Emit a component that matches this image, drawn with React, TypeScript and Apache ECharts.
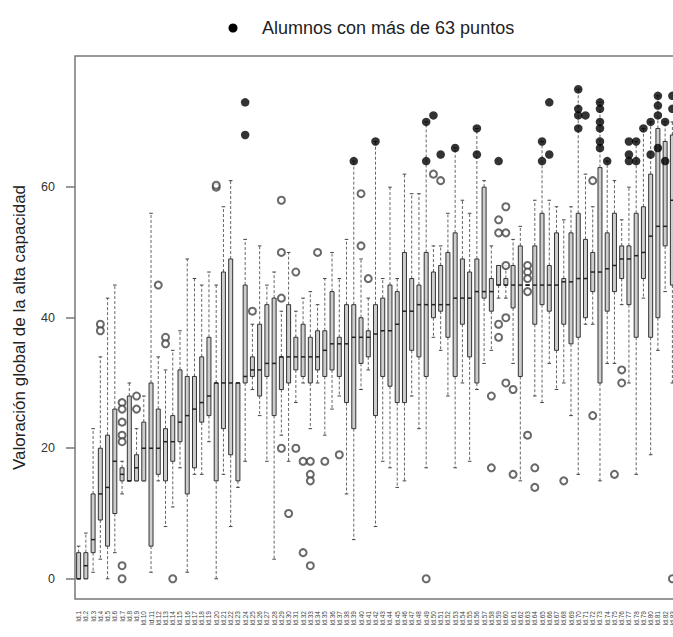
import React, { useEffect, useRef } from "react";
import * as echarts from "echarts";

const categories: string[] = Array.from({ length: 83 }, (_, i) => "Id." + (i + 1));

const whiskerLow = [0,0,1,3,0,4,13,15,15,15,1,15,8,11,17,1,16,16,21,0,16,8,14,18,29,25,18,3,22,18,27,30,23,30,22,26,28,13,6,29,32,8,18,17,14,15,28,23,17,37,35,28,17,30,18,29,33,35,43,43,33,15,45,28,27,33,29,30,25,16,39,39,15,33,33,42,30,16,43,19,35,44,30];
const q1 = [0,0,4,9,5,10,15,15,15,15,5,16,15,18,21,13,17,24,25,15,23,19,15,30,31,28,31,25,29,30,32,31,30,32,31,32,31,27,23,33,34,25,31,29.5,27,27,35,34,31,40,41,37,31,39,34,30,43,41,45,45,41.5,31,45,39,42,41,35,39,36,37,40,44,30,41,44,46,42,37,46,37,40,51,45];
const medians = [0,2,6,13,14,18,16,15,17,20,20,20,21,21,24,25,26,27,28,30,30,30,30,31,32,32,33,33,34,34,34,34,34,34,35,36,36,36,37,37,37,37.5,38,38,39,41,41,42,42,42,42,42,43,43,43,44,44,44,45,45,45,45,45,45,45,45,45,45.5,45.5,46,46,47,47,47.5,48,49,49,49.5,50,52.5,54,54,58];
const q3 = [4,4,13,20,22,26,17,28,19,24,30,26,23,25,32,31,31,34,37,30,47,49,30,45,34,39,42,43,34,42,37,39,37,38,38,44,37,42,42,40,38,42,43,45,44,50,46,45,50,47,48,50,53,49,47,49,60,46,48,46,48,51,45,51,56,48,53,46,53,56,52,50,63,53,56,51,51,56,57,62,69,67,68];
const whiskerHigh = [5,7,23,34,43,45,18,30,23,28,56,34,32,35,38,49,46,45,47,45,57,61,30,52,39,51,45,47,41,50,41,43,44,42,46,50,46,52,64,49,43,67,46,60,46,62,59,59,70,51,51,56,66,58,56,69,61,51,48,48,52,54,45,58,67,58,57,55,57,75,62,57,73,64,61,55,60,67,69,70,74,70,70];

// [box number, value]
const openOutliers: [number, number][] = [
  [4,39],[4,38],[7,27],[7,26],[7,24],[7,22],[7,21],[7,2],[7,0],[9,28],[9,26],[12,45],[13,37],[13,36],[14,0],
  [20,60],[20,60.3],[25,41],[29,58],[29,50],[29,43],[29,20],[30,10],[31,47],[31,20],[32,18],[32,4],
  [33,18],[33,16],[33,15],[33,2],[34,50],[35,18],[37,19],[40,59],[40,51],[41,46],[49,0],[50,62],[51,61],
  [58,28],[58,17],[59,55],[59,53],[59,39],[59,37],[60,57],[60,53],[60,48],[60,40],[60,30],[61,29],[61,16],
  [63,48],[63,47],[63,46],[63,44],[63,22],[64,17],[64,14],[68,15],[72,61],[72,25],[75,16],[76,32],[76,30],[83,0]
];

const highScorers: [number, number][] = [
  [24,73],[24,68],[39,64],[42,67],[49,70],[49,64],[50,71],[51,65],[53,66],[56,69],[56,65],[59,64],
  [65,67],[65,64],[66,73],[66,65],[70,75],[70,72],[70,71],[70,69],[71,71],
  [73,73],[73,72],[73,70],[73,69],[73,67],[73,66],[74,64],[77,67],[77,65],[77,64],[78,67],[78,64],
  [79,69],[80,70],[80,65],[81,74],[81,72.5],[81,71],[81,66],[82,70],[82,64],[83,74],[83,72]
];

const yTicks = [0, 20, 40, 60];
const legendLabel = "Alumnos con más de 63 puntos";
const yTitle = "Valoración global de la alta capacidad";

const FONT = "'Liberation Sans', Arial, Helvetica, sans-serif";

export default function App() {
  const ref = useRef<HTMLDivElement>(null);
  useEffect(() => {
    if (!ref.current) return;
    const chart = echarts.init(ref.current, undefined, { renderer: "svg" });
    const boxData = categories.map((_, i) => [i, whiskerLow[i], q1[i], medians[i], q3[i], whiskerHigh[i]]);
    chart.setOption({
      animation: false,
      backgroundColor: "#ffffff",
      grid: {
        left: 75, top: 56, width: 601, height: 543,
        show: true, borderColor: "#777", borderWidth: 1.5, containLabel: false,
      },
      graphic: [
        { type: "circle", shape: { cx: 233, cy: 28, r: 4.5 }, style: { fill: "#000" } },
        {
          type: "text", x: 262, y: 28,
          style: { text: legendLabel, fill: "#222", font: `18px ${FONT}`, verticalAlign: "middle", align: "left" },
        },
      ],
      xAxis: {
        type: "category",
        data: categories,
        axisLine: { show: false },
        axisTick: { show: false },
        axisLabel: { interval: 0, rotate: 90, fontSize: 6.5, margin: 12, color: "#444", fontFamily: FONT },
        splitLine: { show: false },
      },
      yAxis: {
        type: "value",
        min: -3.1,
        max: 80.1,
        name: yTitle,
        nameLocation: "middle",
        nameGap: 47,
        nameTextStyle: { fontSize: 17, color: "#222", fontFamily: FONT },
        axisLine: { show: false },
        axisTick: { show: true, length: 9, customValues: yTicks, lineStyle: { color: "#777", width: 1.5 } },
        axisLabel: { customValues: yTicks, fontSize: 12.5, margin: 20, color: "#333", fontFamily: FONT },
        splitLine: { show: false },
      },
      series: [
        {
          type: "custom",
          data: boxData,
          encode: { x: 0, y: [1, 5] },
          renderItem: (params: any, api: any) => {
            const i = api.value(0);
            const pMin = api.coord([i, api.value(1)]);
            const pQ1 = api.coord([i, api.value(2)]);
            const pMed = api.coord([i, api.value(3)]);
            const pQ3 = api.coord([i, api.value(4)]);
            const pMax = api.coord([i, api.value(5)]);
            const cx = pMed[0];
            const bw = api.size([1, 0])[0] * 0.55;
            const cap = bw * 0.45;
            const dash = { stroke: "#666", lineWidth: 1, lineDash: [3, 2] };
            return {
              type: "group",
              children: [
                { type: "line", shape: { x1: cx, y1: pQ3[1], x2: cx, y2: pMax[1] }, style: dash },
                { type: "line", shape: { x1: cx, y1: pQ1[1], x2: cx, y2: pMin[1] }, style: dash },
                { type: "line", shape: { x1: cx - cap, y1: pMax[1], x2: cx + cap, y2: pMax[1] }, style: { stroke: "#444", lineWidth: 1 } },
                { type: "line", shape: { x1: cx - cap, y1: pMin[1], x2: cx + cap, y2: pMin[1] }, style: { stroke: "#444", lineWidth: 1 } },
                {
                  type: "rect",
                  shape: { x: cx - bw / 2, y: pQ3[1], width: bw, height: pQ1[1] - pQ3[1] },
                  style: { fill: "#cdcdcd", stroke: "#333", lineWidth: 1 },
                },
                { type: "line", shape: { x1: cx - bw / 2, y1: pMed[1], x2: cx + bw / 2, y2: pMed[1] }, style: { stroke: "#222", lineWidth: 1.5 } },
              ],
            };
          },
          z: 2,
        },
        {
          type: "scatter",
          data: openOutliers.map(([b, v]) => [b - 1, v]),
          symbol: "emptyCircle",
          symbolSize: 7,
          itemStyle: { color: "#444", borderColor: "#444", borderWidth: 0.9 },
          z: 3,
        },
        {
          type: "scatter",
          name: legendLabel,
          data: highScorers.map(([b, v]) => [b - 1, v]),
          symbol: "circle",
          symbolSize: 8.5,
          itemStyle: { color: "#000" },
          z: 4,
        },
      ],
    });
    return () => chart.dispose();
  }, []);
  return (
    <div style={{ position: "absolute", left: 0, top: 0, width: 673, height: 637, overflow: "hidden", background: "#fff" }}>
      <div ref={ref} style={{ width: 700, height: 637 }} />
    </div>
  );
}
